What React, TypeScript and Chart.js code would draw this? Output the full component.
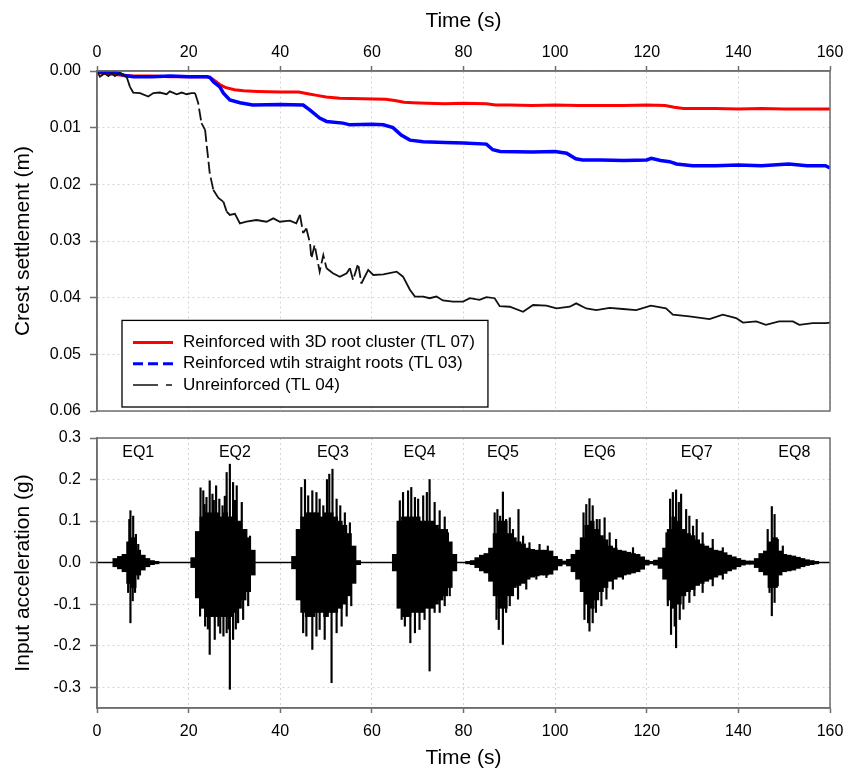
import React, { useEffect, useRef } from "react";
import { Chart, registerables } from "chart.js";

Chart.register(...registerables);

const FONT = "'Liberation Sans', Arial, Helvetica, sans-serif";

// ---------- Crest settlement (top panel) ----------
const tl07Time = [0, 2, 4, 6, 8, 12, 16, 20, 24, 25, 26, 27, 28, 30, 32, 35, 40, 44, 46, 48, 50, 53, 58, 63, 65, 67, 69, 72, 76, 80, 85, 87, 90, 95, 100, 105, 110, 115, 120, 124, 126, 128, 135, 140, 145, 150, 155, 160];
const tl07Settle = [0.0002, 0.0005, 0.0006, 0.0008, 0.0009, 0.0009, 0.001, 0.001, 0.001, 0.0013, 0.0019, 0.0025, 0.0029, 0.0033, 0.0035, 0.0036, 0.0037, 0.0037, 0.004, 0.0043, 0.0046, 0.0048, 0.0049, 0.005, 0.0052, 0.0055, 0.0056, 0.0057, 0.0058, 0.0057, 0.0058, 0.006, 0.006, 0.0061, 0.006, 0.0061, 0.0061, 0.0061, 0.006, 0.0061, 0.0064, 0.0066, 0.0066, 0.0067, 0.0066, 0.0067, 0.0067, 0.0067];

const tl03Time = [0, 1, 2, 3, 4, 5, 6, 8, 12, 16, 20, 24, 24.6, 25.4, 26.8, 27.6, 29, 31.2, 34, 40, 45, 46.5, 48.6, 50.1, 53.7, 55.2, 60, 62.5, 64.6, 66.4, 68.3, 71.2, 76, 80, 85, 86.4, 88, 95, 100, 102.5, 104.5, 106, 110, 115, 120, 121, 123, 125, 126.5, 130, 135, 140, 145, 151, 155, 159, 160];
const tl03Settle = [0, 0.0003, 0.0001, 0.0004, 0.0002, 0.0005, 0.0008, 0.001, 0.001, 0.0009, 0.001, 0.001, 0.0011, 0.0019, 0.0028, 0.0039, 0.0051, 0.0056, 0.006, 0.0059, 0.006, 0.0069, 0.0083, 0.0089, 0.0092, 0.0095, 0.0094, 0.0095, 0.01, 0.0113, 0.0122, 0.0125, 0.0126, 0.0127, 0.0129, 0.0139, 0.0142, 0.0143, 0.0142, 0.0145, 0.0155, 0.0157, 0.0157, 0.0158, 0.0157, 0.0154, 0.0158, 0.016, 0.0164, 0.0167, 0.0167, 0.0166, 0.0167, 0.0164, 0.0167, 0.0167, 0.0171];

const tl04Time = [0, 0.65, 1.7, 2.5, 3.2, 3.9, 5, 5.7, 6.5, 7.2, 7.9, 9.4, 11.2, 12.3, 13.7, 15.2, 15.9, 17.4, 18.5, 19.6, 20.6, 21.4, 22.1, 22.8, 23.6, 23.9, 24.3, 24.6, 25.4, 26.5, 27.6, 28.3, 29, 30.1, 31.2, 32.6, 34.8, 37, 38.5, 39.9, 42.1, 43.5, 44.3, 45, 45.7, 46.5, 46.8, 47.5, 48.6, 49.4, 50.1, 51.5, 53, 54.5, 55.2, 55.9, 57, 57.7, 59.2, 60.3, 62.5, 65.4, 66.8, 68.3, 69.4, 71.2, 72.6, 74.1, 75.5, 77.7, 79.9, 81.4, 83.5, 85, 86.8, 87.9, 90.1, 93, 95.2, 98.1, 100.3, 103.2, 104.6, 106.8, 109, 111.9, 114.8, 117.7, 120.9, 124.2, 125.7, 129.3, 133.7, 136.6, 139.5, 141, 143.9, 146, 148.9, 151.9, 153.3, 156.2, 159.1, 160];
const tl04Settle = [0.0001, 0.001, 0.0004, 0.0009, 0.0003, 0.0009, 0.0003, 0.0006, 0.0011, 0.0028, 0.0038, 0.0039, 0.0045, 0.0039, 0.0038, 0.0041, 0.0036, 0.0041, 0.0038, 0.0041, 0.0039, 0.0039, 0.0057, 0.0092, 0.0104, 0.0128, 0.0157, 0.018, 0.021, 0.0224, 0.0231, 0.0248, 0.0254, 0.0252, 0.0269, 0.0266, 0.0263, 0.0266, 0.026, 0.0266, 0.0264, 0.0269, 0.0254, 0.0286, 0.0278, 0.0304, 0.0331, 0.0307, 0.0354, 0.0325, 0.0348, 0.0357, 0.0363, 0.0357, 0.0348, 0.0369, 0.034, 0.0375, 0.0351, 0.036, 0.0359, 0.0354, 0.0363, 0.0386, 0.0398, 0.0398, 0.0401, 0.0398, 0.0405, 0.0407, 0.0407, 0.0401, 0.0404, 0.0399, 0.0401, 0.0415, 0.0416, 0.0425, 0.0413, 0.0414, 0.0419, 0.0416, 0.041, 0.0419, 0.0422, 0.0418, 0.042, 0.0422, 0.0414, 0.0419, 0.043, 0.0433, 0.0438, 0.043, 0.0436, 0.0444, 0.0442, 0.0448, 0.0442, 0.0442, 0.0448, 0.0445, 0.0445, 0.0444];

const seriesLabels = [
  "Reinforced with 3D root cluster (TL 07)",
  "Reinforced wtih straight roots (TL 03)",
  "Unreinforced (TL 04)",
];

// ---------- Input acceleration (bottom panel) ----------
// 1-s envelope bins of the dense record (centre time, lower and upper bound, g)
const accBinTime = [
  4, 5, 6, 7, 8, 9, 10, 11, 12, 13,
  21, 22, 23, 24, 25, 26, 27, 28, 29, 30, 31, 32, 33, 34,
  43, 44, 45, 46, 47, 48, 49, 50, 51, 52, 53, 54, 55, 56, 57,
  65, 66, 67, 68, 69, 70, 71, 72, 73, 74, 75, 76, 77, 78,
  81, 82, 83, 84, 85, 86, 87, 88, 89, 90, 91, 92, 93, 94, 95, 96, 97, 98, 99, 100, 101, 102,
  103, 104, 105, 106, 107, 108, 109, 110, 111, 112, 113, 114, 115, 116, 117, 118, 119, 120, 121,
  122, 123, 124, 125, 126, 127, 128, 129, 130, 131, 132, 133, 134, 135, 136, 137, 138, 139, 140, 141, 142, 143,
  144, 145, 146, 147, 148, 149, 150, 151, 152, 153, 154, 155, 156, 157,
];
const accBinHigh = [
  0.01, 0.015, 0.02, 0.05, 0.06, 0.03, 0.018, 0.01, 0.005, 0.003,
  0.012, 0.075, 0.11, 0.12, 0.12, 0.12, 0.11, 0.12, 0.11, 0.11, 0.1, 0.08, 0.06, 0.03,
  0.015, 0.08, 0.11, 0.12, 0.12, 0.12, 0.11, 0.12, 0.12, 0.11, 0.1, 0.09, 0.07, 0.04, 0.005,
  0.02, 0.1, 0.11, 0.11, 0.11, 0.11, 0.1, 0.1, 0.1, 0.09, 0.08, 0.08, 0.05, 0.02,
  0.003, 0.005, 0.012, 0.018, 0.022, 0.035, 0.07, 0.1, 0.1, 0.07, 0.06, 0.05, 0.045, 0.035, 0.032, 0.03, 0.03, 0.03, 0.028, 0.015, 0.008, 0.004,
  0.008, 0.02, 0.03, 0.06, 0.09, 0.1, 0.08, 0.065, 0.055, 0.04, 0.035, 0.03, 0.028, 0.025, 0.022, 0.02, 0.014, 0.006, 0.003,
  0.006, 0.012, 0.035, 0.08, 0.11, 0.1, 0.08, 0.07, 0.065, 0.055, 0.045, 0.04, 0.035, 0.03, 0.028, 0.024, 0.018, 0.014, 0.01, 0.006, 0.004, 0.004,
  0.01, 0.022, 0.028, 0.05, 0.06, 0.028, 0.02, 0.018, 0.016, 0.013, 0.01, 0.007, 0.005, 0.003,
];
const accBinLow = [
  -0.01, -0.015, -0.022, -0.05, -0.06, -0.03, -0.018, -0.01, -0.005, -0.003,
  -0.012, -0.085, -0.11, -0.13, -0.13, -0.13, -0.13, -0.13, -0.13, -0.12, -0.11, -0.09, -0.07, -0.03,
  -0.015, -0.09, -0.12, -0.13, -0.13, -0.12, -0.12, -0.13, -0.12, -0.12, -0.11, -0.1, -0.08, -0.05, -0.005,
  -0.02, -0.11, -0.13, -0.13, -0.12, -0.12, -0.12, -0.11, -0.11, -0.1, -0.09, -0.08, -0.06, -0.02,
  -0.003, -0.005, -0.012, -0.02, -0.025, -0.045, -0.08, -0.11, -0.11, -0.08, -0.06, -0.055, -0.05, -0.04, -0.035, -0.032, -0.03, -0.03, -0.028, -0.018, -0.008, -0.004,
  -0.008, -0.022, -0.04, -0.07, -0.1, -0.11, -0.09, -0.07, -0.06, -0.045, -0.04, -0.035, -0.03, -0.028, -0.025, -0.022, -0.016, -0.006, -0.003,
  -0.006, -0.014, -0.04, -0.09, -0.11, -0.1, -0.08, -0.07, -0.065, -0.055, -0.05, -0.045, -0.04, -0.035, -0.03, -0.026, -0.02, -0.016, -0.01, -0.006, -0.004, -0.004,
  -0.012, -0.022, -0.03, -0.06, -0.06, -0.03, -0.022, -0.02, -0.018, -0.014, -0.01, -0.007, -0.005, -0.003,
];

// individual peaks standing out of the envelope (time s, acceleration g)
const peakTime = [
  7.05, 7.3, 7.9, 8.5, 9.0, 6.8, 7.3, 7.8, 8.3, 9.0,
  22.6, 23.2, 23.5, 23.9, 24.6, 25.2, 25.5, 26.0, 26.7, 27.4, 27.9, 28.3, 29.0, 29.7, 30.1, 30.5, 31.6, 32.6, 33.4,
  22.5, 23.6, 24.2, 24.6, 25.7, 26.5, 26.9, 27.6, 28.3, 28.7, 29.0, 29.7, 30.3, 30.8, 31.9, 33.0,
  44.6, 45.4, 46.1, 47.0, 47.9, 48.6, 49.4, 50.2, 50.7, 51.4, 52.3, 53.1, 54.1, 55.2,
  45.0, 45.7, 47.0, 47.9, 48.6, 49.7, 51.2, 52.3, 53.4, 54.5, 55.5,
  66.1, 66.8, 67.9, 68.6, 69.4, 70.1, 71.2, 72.0, 72.6, 73.7, 74.8, 75.9, 76.6,
  66.5, 67.2, 68.4, 69.4, 70.4, 71.5, 72.6, 73.7, 74.8, 75.9, 77.0,
  86.8, 87.4, 88.0, 88.6, 89.3, 90.1, 90.8, 92.0, 93.0, 94.4, 96.6, 98.4,
  87.2, 87.7, 88.6, 89.3, 90.1, 90.8, 91.9, 93.7, 95.9, 98.1,
  106.2, 106.8, 107.5, 108.2, 109.1, 109.7, 110.8, 111.9, 113.3, 117.0,
  106.4, 107.2, 107.5, 108.2, 108.9, 110.1, 111.2, 112.6, 114.8,
  124.3, 125.1, 125.7, 126.4, 127.0, 127.5, 128.6, 129.3, 130.1, 130.9, 132.2, 134.4, 136.6,
  124.6, 125.3, 126.1, 126.4, 127.2, 128.0, 129.3, 130.4, 132.2, 134.4, 136.6,
  146.4, 147.3, 147.9, 148.6, 149.7,
  146.8, 147.3, 147.9, 148.6,
];
const peakAcc = [
  0.104, 0.125, 0.112, 0.068, 0.044, -0.072, -0.145, -0.092, -0.072, -0.04,
  0.18, 0.173, 0.14, 0.157, 0.197, 0.165, 0.15, 0.185, 0.153, 0.137, 0.16, 0.217, 0.237, 0.193, 0.15, 0.185, 0.145, 0.08, 0.064,
  -0.129, -0.153, -0.16, -0.221, -0.185, -0.153, -0.17, -0.177, -0.169, -0.16, -0.305, -0.185, -0.16, -0.145, -0.137, -0.104,
  0.181, 0.2, 0.161, 0.173, 0.169, 0.153, 0.137, 0.2, 0.213, 0.225, 0.153, 0.137, 0.12, 0.096,
  -0.169, -0.177, -0.209, -0.177, -0.161, -0.185, -0.289, -0.169, -0.153, -0.129, -0.104,
  0.149, 0.169, 0.173, 0.181, 0.157, 0.153, 0.161, 0.169, 0.2, 0.145, 0.125, 0.11, 0.072,
  -0.137, -0.153, -0.193, -0.169, -0.161, -0.137, -0.261, -0.12, -0.12, -0.104, -0.08,
  0.12, 0.128, 0.112, 0.17, 0.104, 0.108, 0.08, 0.128, 0.064, 0.048, 0.044, 0.04,
  -0.137, -0.161, -0.197, -0.12, -0.104, -0.08, -0.088, -0.064, -0.04, -0.036,
  0.12, 0.14, 0.154, 0.137, 0.104, 0.104, 0.108, 0.072, 0.056, 0.036,
  -0.137, -0.145, -0.165, -0.145, -0.12, -0.104, -0.088, -0.064, -0.04,
  0.072, 0.153, 0.169, 0.175, 0.145, 0.165, 0.128, 0.112, 0.088, 0.104, 0.072, 0.056, 0.036,
  -0.104, -0.173, -0.153, -0.205, -0.137, -0.112, -0.096, -0.08, -0.072, -0.056, -0.04,
  0.08, 0.135, 0.116, 0.056, 0.04,
  -0.072, -0.128, -0.096, -0.056,
];

const baselineTime = [0, 160];
const baselineAcc = [0, 0];

const eqNames = ["EQ1", "EQ2", "EQ3", "EQ4", "EQ5", "EQ6", "EQ7", "EQ8"];
const eqLabelTime = [9.0, 30.1, 51.5, 70.4, 88.6, 109.7, 130.9, 152.2];
const eqLabelAcc = 0.265;

// ---------- styling helpers ----------
const AXIS_GREY = "#6e6e6e";
const tickFont = { family: FONT, size: 16 };
const titleFont = { family: FONT, size: 21 };

const framePlugin = {
  id: "frame",
  afterDatasetsDraw(chart: any) {
    const { ctx, chartArea: a } = chart;
    ctx.save();
    ctx.strokeStyle = AXIS_GREY;
    ctx.lineWidth = 1.5;
    ctx.strokeRect(a.left, a.top, a.right - a.left, a.bottom - a.top);
    ctx.restore();
  },
};

const boxLegendPlugin = {
  id: "boxLegend",
  afterDraw(chart: any) {
    const { ctx, chartArea: a } = chart;
    const ds = chart.data.datasets;
    ctx.save();
    ctx.font = `17px ${FONT}`;
    const textW = Math.max(...ds.map((d: any) => ctx.measureText(d.label).width));
    const rowH = 21.3;
    const padY = 22;
    const left = a.left + 25;
    const w = 61 + textW + 13;
    const h = padY * 2 + rowH * (ds.length - 1);
    const top = a.bottom - 4 - h;
    ctx.fillStyle = "#ffffff";
    ctx.fillRect(left, top, w, h);
    ctx.strokeStyle = "#000";
    ctx.lineWidth = 1.3;
    ctx.strokeRect(left, top, w, h);
    ds.forEach((d: any, i: number) => {
      const y = top + padY + i * rowH;
      ctx.beginPath();
      ctx.setLineDash(d.legendDash || []);
      ctx.lineWidth = d.legendWidth;
      ctx.strokeStyle = d.borderColor;
      ctx.moveTo(left + 11, y);
      ctx.lineTo(left + 51, y);
      ctx.stroke();
      ctx.setLineDash([]);
      ctx.fillStyle = "#000";
      ctx.textAlign = "left";
      ctx.textBaseline = "middle";
      ctx.fillText(d.label, left + 61, y);
    });
    ctx.restore();
  },
};

const eqLabelPlugin = {
  id: "eqLabels",
  afterDatasetsDraw(chart: any) {
    const { ctx, scales } = chart;
    ctx.save();
    ctx.font = `16px ${FONT}`;
    ctx.fillStyle = "#000";
    ctx.textAlign = "center";
    ctx.textBaseline = "middle";
    eqNames.forEach((n, i) => {
      ctx.fillText(n, scales.x.getPixelForValue(eqLabelTime[i]), scales.y.getPixelForValue(eqLabelAcc));
    });
    ctx.restore();
  },
};

const gridStyle = (tickLength: number) => ({
  color: "#d4d4d4",
  lineWidth: 1,
  tickColor: AXIS_GREY,
  tickWidth: 1.5,
  tickLength,
  offset: false,
});
const borderStyle = { color: AXIS_GREY, width: 1.5, dash: [2, 3] };

const fixHeight = (h: number) => (s: any) => {
  s.height = h;
  s.paddingLeft = 0;
  s.paddingRight = 0;
};
const fixWidth = (w: number) => (s: any) => {
  s.width = w;
  s.paddingTop = 0;
  s.paddingBottom = 0;
};

const toXY = (xs: number[], ys: number[]) => xs.map((x, i) => ({ x, y: ys[i] }));

export default function App() {
  const topRef = useRef<HTMLCanvasElement>(null);
  const botRef = useRef<HTMLCanvasElement>(null);

  useEffect(() => {
    const topChart = new Chart(topRef.current as HTMLCanvasElement, {
      type: "line",
      data: {
        datasets: [
          {
            label: seriesLabels[0],
            data: toXY(tl07Time, tl07Settle),
            borderColor: "#ff0000",
            borderWidth: 3,
            pointRadius: 0,
            order: 3,
            legendWidth: 3,
            legendDash: [],
          } as any,
          {
            label: seriesLabels[1],
            data: toXY(tl03Time, tl03Settle),
            borderColor: "#0000ff",
            borderWidth: 3.5,
            pointRadius: 0,
            order: 2,
            legendWidth: 3,
            legendDash: [10, 5],
          } as any,
          {
            label: seriesLabels[2],
            data: toXY(tl04Time, tl04Settle),
            borderColor: "#111111",
            borderWidth: 1.8,
            pointRadius: 0,
            order: 1,
            legendWidth: 1.5,
            legendDash: [25, 8, 6, 30],
            segment: {
              borderDash: (c: any) =>
                Math.abs(c.p1.y - c.p0.y) > 3 * Math.abs(c.p1.x - c.p0.x) ? [12, 4] : undefined,
            },
          } as any,
        ],
      },
      options: {
        responsive: false,
        animation: false,
        layout: { padding: { left: 0, right: 18, top: 0, bottom: 14 } },
        plugins: { legend: { display: false }, tooltip: { enabled: false } },
        scales: {
          x: {
            type: "linear",
            position: "top",
            min: 0,
            max: 160,
            offset: false,
            ticks: { stepSize: 20, color: "#000", font: tickFont, padding: 4, maxRotation: 0, autoSkip: false },
            grid: gridStyle(5),
            border: borderStyle,
            title: { display: true, text: "Time (s)", color: "#000", font: titleFont, padding: { top: 9, bottom: 0 } },
            afterFit: fixHeight(71),
          },
          y: {
            type: "linear",
            reverse: true,
            min: 0,
            max: 0.06,
            ticks: {
              stepSize: 0.01,
              color: "#000",
              font: tickFont,
              padding: 9,
              callback: (v: any) => Number(v).toFixed(2),
            },
            grid: gridStyle(7),
            border: borderStyle,
            title: { display: true, text: "Crest settlement (m)", color: "#000", font: titleFont, padding: { top: 11, bottom: 0 } },
            afterFit: fixWidth(97),
          },
        },
      } as any,
      plugins: [framePlugin, boxLegendPlugin],
    });

    const botChart = new Chart(botRef.current as HTMLCanvasElement, {
      type: "bar",
      data: {
        datasets: [
          {
            type: "line",
            label: "baseline",
            data: toXY(baselineTime, baselineAcc),
            borderColor: "#000",
            borderWidth: 1.5,
            pointRadius: 0,
          } as any,
          {
            type: "bar",
            label: "envelope",
            data: accBinTime.map((t, i) => ({ x: t, y: [accBinLow[i], accBinHigh[i]] })),
            backgroundColor: "#000",
            borderWidth: 0,
            barThickness: 5,
            grouped: false,
          } as any,
          {
            type: "bar",
            label: "peaks",
            data: toXY(peakTime, peakAcc),
            backgroundColor: "#000",
            borderWidth: 0,
            barThickness: 1.5,
            grouped: false,
          } as any,
        ],
      },
      options: {
        responsive: false,
        animation: false,
        layout: { padding: { left: 0, right: 18, top: 13, bottom: 0 } },
        plugins: { legend: { display: false }, tooltip: { enabled: false } },
        scales: {
          x: {
            type: "linear",
            position: "bottom",
            min: 0,
            max: 160,
            offset: false,
            ticks: { stepSize: 20, color: "#000", font: tickFont, padding: 9, maxRotation: 0, autoSkip: false },
            grid: gridStyle(5),
            border: borderStyle,
            title: { display: true, text: "Time (s)", color: "#000", font: titleFont, padding: { top: 0, bottom: -3 } },
            afterFit: fixHeight(60),
          },
          y: {
            type: "linear",
            min: -0.35,
            max: 0.3,
            ticks: {
              stepSize: 0.1,
              includeBounds: false,
              color: "#000",
              font: tickFont,
              padding: 9,
              callback: (v: any) => Number(v).toFixed(1),
            },
            grid: gridStyle(7),
            border: borderStyle,
            title: { display: true, text: "Input acceleration (g)", color: "#000", font: titleFont, padding: { top: 11, bottom: 0 } },
            afterFit: fixWidth(97),
          },
        },
      } as any,
      plugins: [framePlugin, eqLabelPlugin],
    });

    return () => {
      topChart.destroy();
      botChart.destroy();
    };
  }, []);

  return (
    <div style={{ position: "absolute", left: 0, top: 0, width: 848, height: 768, background: "#fff" }}>
      <canvas ref={topRef} width={848} height={425} style={{ position: "absolute", left: 0, top: 0, display: "block" }} />
      <canvas ref={botRef} width={848} height={343} style={{ position: "absolute", left: 0, top: 425, display: "block" }} />
    </div>
  );
}
